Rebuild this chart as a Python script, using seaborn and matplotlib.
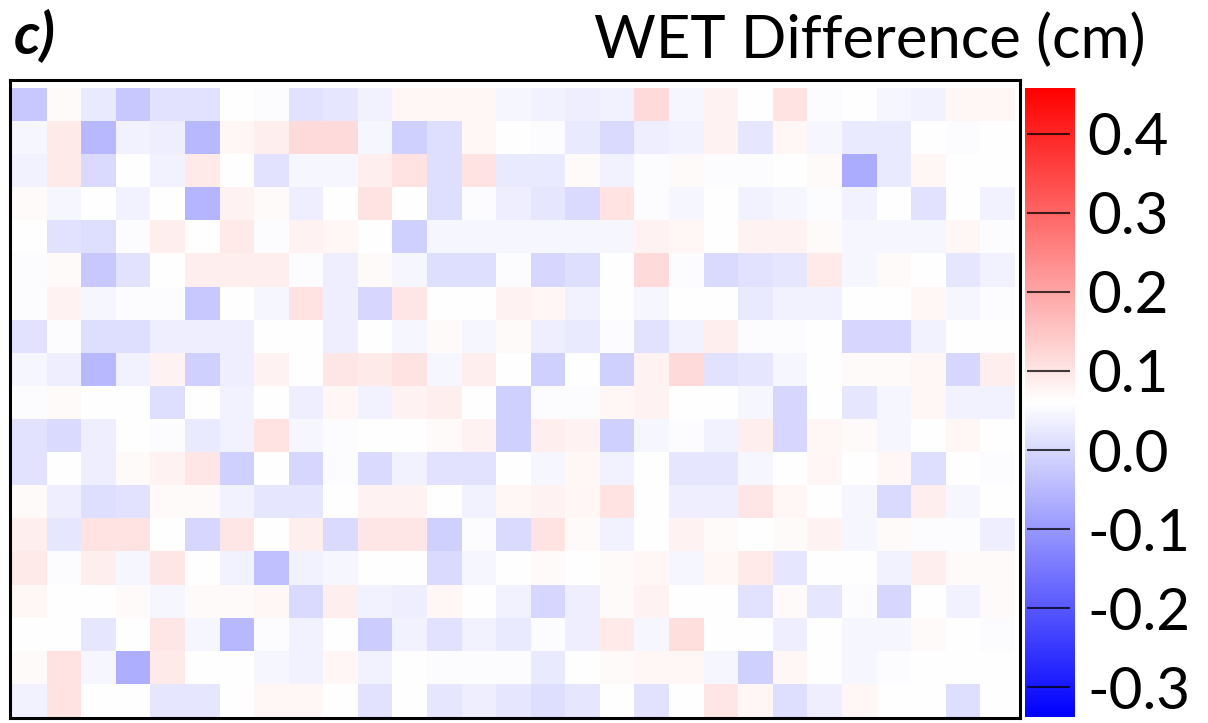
import matplotlib
matplotlib.use('Agg')
import matplotlib.pyplot as plt
import numpy as np
import seaborn as sns

# 每一行格子的WET差值 (cm)，从上到下，每行29格
row00 = [-0.025, 0.067, 0.028, -0.025, 0.015, 0.015, 0.06, 0.054, 0.015, 0.021, 0.041, 0.073, 0.073, 0.073, 0.047, 0.041, 0.034, 0.041, 0.119, 0.047, 0.08, 0.06, 0.106, 0.054, 0.06, 0.047, 0.041, 0.073, 0.073]
row01 = [0.047, 0.093, -0.05, 0.041, 0.034, -0.05, 0.073, 0.086, 0.119, 0.119, 0.047, -0.012, 0.008, 0.073, 0.06, 0.054, 0.028, 0.002, 0.034, 0.041, 0.08, 0.021, 0.073, 0.047, 0.028, 0.028, 0.06, 0.054, 0.06]
row02 = [0.041, 0.093, 0.002, 0.06, 0.041, 0.093, 0.06, 0.015, 0.047, 0.047, 0.086, 0.106, 0.008, 0.106, 0.028, 0.028, 0.067, 0.041, 0.054, 0.067, 0.054, 0.054, 0.06, 0.067, -0.07, 0.028, 0.073, 0.06, 0.06]
row03 = [0.067, 0.047, 0.06, 0.041, 0.06, -0.055, 0.08, 0.067, 0.034, 0.06, 0.106, 0.06, 0.008, 0.054, 0.034, 0.021, 0.002, 0.106, 0.054, 0.047, 0.06, 0.041, 0.047, 0.054, 0.041, 0.06, 0.015, 0.06, 0.041]
row04 = [0.06, 0.015, 0.008, 0.054, 0.086, 0.06, 0.093, 0.054, 0.08, 0.073, 0.06, -0.012, 0.047, 0.047, 0.047, 0.047, 0.047, 0.047, 0.08, 0.073, 0.06, 0.08, 0.08, 0.067, 0.047, 0.047, 0.047, 0.073, 0.054]
row05 = [0.054, 0.067, -0.025, 0.015, 0.06, 0.086, 0.086, 0.086, 0.054, 0.034, 0.067, 0.047, 0.008, 0.008, 0.054, -0.005, 0.008, 0.06, 0.119, 0.054, 0.002, 0.015, 0.021, 0.093, 0.047, 0.067, 0.06, 0.021, 0.041]
row06 = [0.054, 0.08, 0.047, 0.054, 0.054, -0.025, 0.06, 0.047, 0.106, 0.034, -0.005, 0.099, 0.06, 0.06, 0.08, 0.073, 0.041, 0.06, 0.047, 0.06, 0.06, 0.028, 0.041, 0.041, 0.06, 0.06, 0.073, 0.047, 0.054]
row07 = [0.015, 0.054, 0.008, 0.008, 0.034, 0.034, 0.034, 0.06, 0.06, 0.034, 0.06, 0.047, 0.067, 0.047, 0.067, 0.034, 0.028, 0.054, 0.015, 0.041, 0.086, 0.054, 0.054, 0.06, -0.005, -0.005, 0.041, 0.06, 0.06]
row08 = [0.047, 0.034, -0.05, 0.041, 0.08, -0.012, 0.034, 0.08, 0.06, 0.099, 0.093, 0.106, 0.047, 0.086, 0.06, -0.012, 0.06, -0.012, 0.08, 0.119, 0.015, 0.021, 0.047, 0.06, 0.067, 0.067, 0.073, -0.005, 0.086]
row09 = [0.054, 0.067, 0.06, 0.06, 0.008, 0.06, 0.041, 0.06, 0.034, 0.073, 0.041, 0.08, 0.086, 0.06, -0.012, 0.054, 0.054, 0.073, 0.08, 0.06, 0.06, 0.047, -0.005, 0.06, 0.021, 0.047, 0.073, 0.041, 0.041]
row10 = [0.015, 0.002, 0.034, 0.06, 0.054, 0.028, 0.041, 0.106, 0.047, 0.054, 0.06, 0.06, 0.067, 0.08, -0.012, 0.086, 0.08, -0.012, 0.047, 0.056, 0.041, 0.086, -0.005, 0.073, 0.067, 0.047, 0.06, 0.073, 0.06]
row11 = [0.015, 0.06, 0.034, 0.067, 0.08, 0.099, -0.012, 0.06, -0.005, 0.054, 0.002, 0.041, 0.015, 0.015, 0.06, 0.047, 0.073, 0.041, 0.06, 0.021, 0.021, 0.047, 0.06, 0.073, 0.06, 0.073, 0.008, 0.06, 0.054]
row12 = [0.067, 0.034, 0.008, 0.015, 0.067, 0.067, 0.041, 0.021, 0.021, 0.06, 0.08, 0.08, 0.06, 0.041, 0.073, 0.08, 0.073, 0.106, 0.06, 0.034, 0.034, 0.099, 0.073, 0.06, 0.047, 0.002, 0.086, 0.047, 0.06]
row13 = [0.086, 0.021, 0.106, 0.106, 0.06, -0.005, 0.099, 0.06, 0.086, 0.002, 0.099, 0.099, -0.012, 0.054, 0.002, 0.106, 0.067, 0.041, 0.06, 0.08, 0.067, 0.06, 0.067, 0.08, 0.047, 0.067, 0.054, 0.054, 0.034]
row14 = [0.093, 0.054, 0.086, 0.047, 0.099, 0.06, 0.041, -0.038, 0.041, 0.047, 0.06, 0.06, 0.002, 0.047, 0.06, 0.067, 0.06, 0.067, 0.073, 0.047, 0.073, 0.093, 0.021, 0.06, 0.06, 0.041, 0.086, 0.067, 0.067]
row15 = [0.073, 0.06, 0.06, 0.067, 0.047, 0.067, 0.067, 0.073, 0.002, 0.086, 0.041, 0.034, 0.073, 0.06, 0.041, -0.005, 0.034, 0.067, 0.08, 0.06, 0.06, 0.015, 0.067, 0.021, 0.054, -0.005, 0.06, 0.041, 0.067]
row16 = [0.06, 0.06, 0.021, 0.06, 0.099, 0.047, -0.05, 0.054, 0.041, 0.06, -0.018, 0.041, 0.015, 0.041, 0.028, 0.054, 0.034, 0.093, 0.047, 0.112, 0.06, 0.06, 0.034, 0.06, 0.047, 0.047, 0.067, 0.06, 0.054]
row17 = [0.067, 0.106, 0.047, -0.065, 0.093, 0.06, 0.06, 0.047, 0.041, 0.073, 0.041, 0.06, 0.054, 0.054, 0.054, 0.028, 0.06, 0.067, 0.073, 0.073, 0.047, -0.012, 0.073, 0.06, 0.047, 0.054, 0.06, 0.06, 0.06]
row18 = [0.041, 0.106, 0.06, 0.06, 0.021, 0.021, 0.06, 0.073, 0.073, 0.06, 0.015, 0.06, 0.021, 0.034, 0.021, 0.008, 0.021, 0.06, 0.015, 0.06, 0.099, 0.073, 0.008, 0.034, 0.073, 0.06, 0.06, 0.008, 0.06]

rows = [row00, row01, row02, row03, row04, row05, row06, row07, row08, row09,
        row10, row11, row12, row13, row14, row15, row16, row17, row18]
data = np.array(rows)

cbar_ticks = [0.4, 0.3, 0.2, 0.1, 0.0, -0.1, -0.2, -0.3]
vmin, vmax = -0.3375, 0.4577

plt.rcParams['font.family'] = ['Lato', 'DejaVu Sans']
plt.rcParams['axes.unicode_minus'] = False

W, H = 1208, 723
fig = plt.figure(figsize=(W / 100, H / 100), dpi=100)
ax = fig.add_axes([10 / W, 1 - 718 / H, 1010 / W, 638 / H])
cax = fig.add_axes([1025 / W, 1 - 717 / H, 50 / W, 629 / H])

sns.heatmap(data, ax=ax, cbar_ax=cax, cmap='bwr', vmin=vmin, vmax=vmax,
            xticklabels=False, yticklabels=False,
            cbar_kws={'ticks': cbar_ticks, 'format': '%.1f'})

# 格子和边框之间留一点白边
ax.set_xlim(-0.06, 29.15)
ax.set_ylim(19.03, -0.24)
for s in ax.spines.values():
    s.set_visible(True)
    s.set_linewidth(2.2)
    s.set_color('black')
ax.tick_params(left=False, bottom=False)

# 色条：无边框，刻度线画在色条内部
cbar = ax.collections[0].colorbar
cbar.outline.set_visible(False)
cax.tick_params(length=0, labelsize=42, pad=9)
cax.hlines(cbar_ticks, 0.04, 0.9, colors='black', alpha=0.75, linewidth=1.5)

fig.text(1146 / W, 1 - 58 / H, 'WET Difference (cm)', ha='right', va='baseline', fontsize=43)
fig.text(14 / W, 1 - 54 / H, 'c)', ha='left', va='baseline', fontsize=42,
         fontweight='bold', fontstyle='italic')

fig.savefig('out.png', dpi=100)
